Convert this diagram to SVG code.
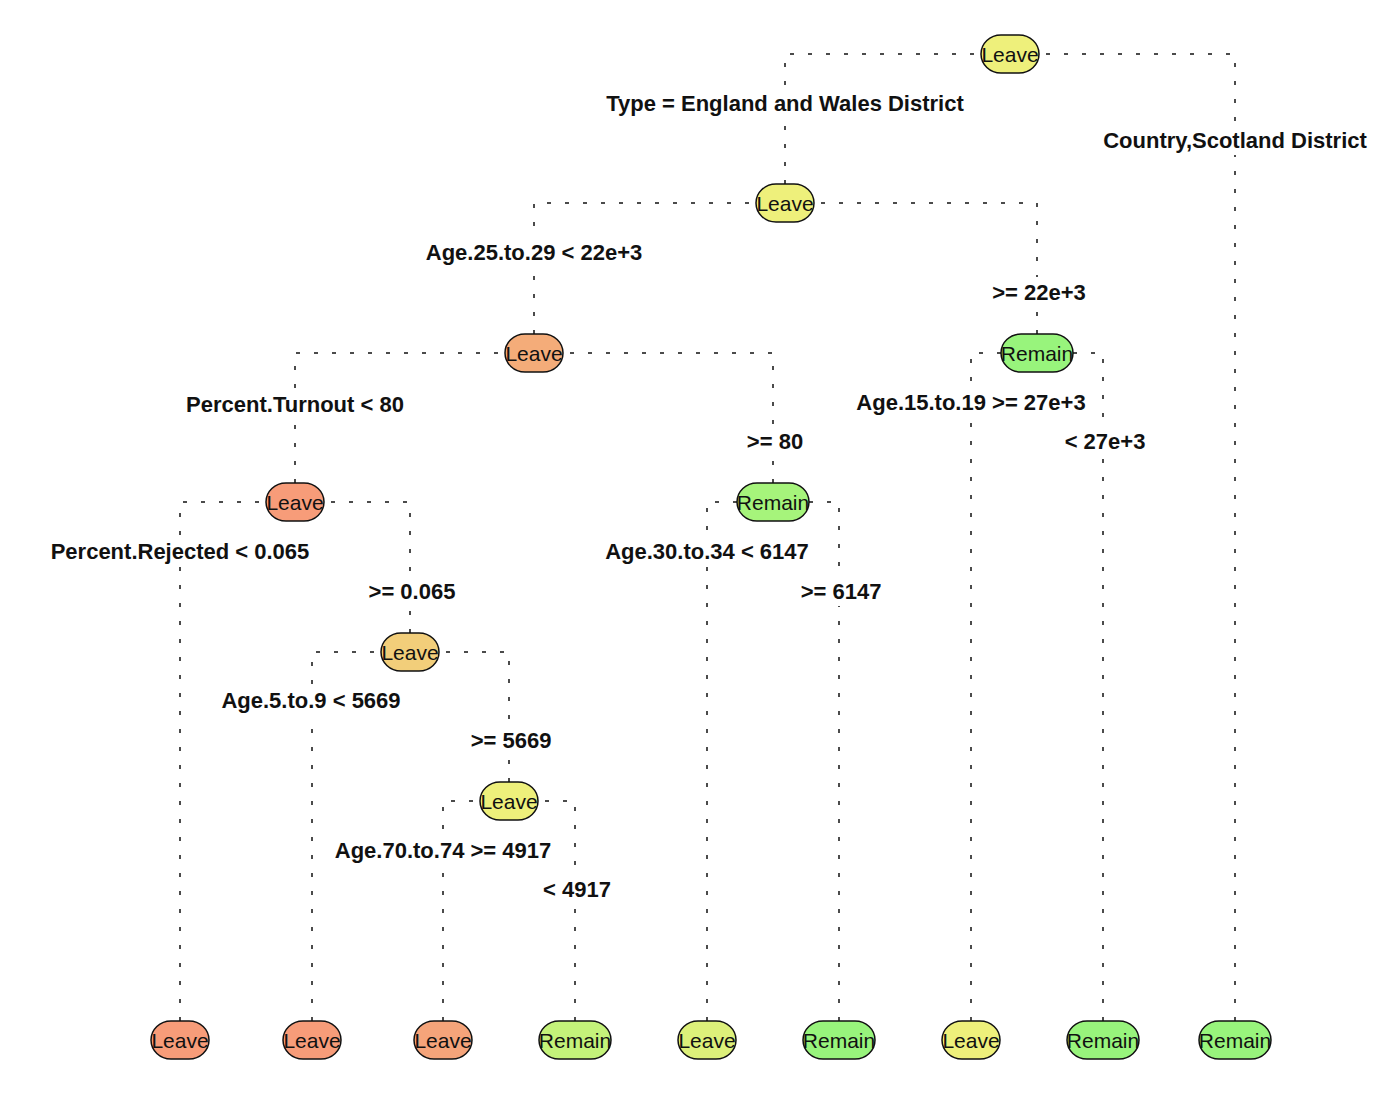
<svg xmlns="http://www.w3.org/2000/svg" width="1400" height="1099" viewBox="0 0 1400 1099">
<style>
.e{fill:none;stroke:#111;stroke-width:1.5;stroke-dasharray:4 14}
.lb{font-family:"Liberation Sans",Arial,sans-serif;font-weight:bold;font-size:22px;fill:#111;text-anchor:middle}
.nt{font-family:"Liberation Sans",Arial,sans-serif;font-size:21px;fill:#111;text-anchor:middle}
.n{stroke:#111;stroke-width:1.5}
.or{fill:#F79C79}.ye{fill:#EEF07B}.gr{fill:#98F47C}
</style>
<rect width="1400" height="1099" fill="#fff"/>
<g id="connectors">
<path class="e" d="M1010,54 H785 V88"/><path class="e" d="M785,184 V118"/>
<path class="e" d="M1010,54 H1235 V125"/><path class="e" d="M1235,1021 V155"/>
<path class="e" d="M785,203 H534 V237"/><path class="e" d="M534,334 V267"/>
<path class="e" d="M785,203 H1037 V277"/><path class="e" d="M1037,334 V307"/>
<path class="e" d="M534,353 H295 V389"/><path class="e" d="M295,483 V419"/>
<path class="e" d="M534,353 H773 V426"/><path class="e" d="M773,483 V456"/>
<path class="e" d="M1037,353 H971 V387"/><path class="e" d="M971,1021 V417"/>
<path class="e" d="M1037,353 H1103 V426"/><path class="e" d="M1103,1021 V456"/>
<path class="e" d="M295,502 H180 V536"/><path class="e" d="M180,1021 V566"/>
<path class="e" d="M295,502 H410 V576"/><path class="e" d="M410,633 V606"/>
<path class="e" d="M773,502 H707 V536"/><path class="e" d="M707,1021 V566"/>
<path class="e" d="M773,502 H839 V576"/><path class="e" d="M839,1021 V606"/>
<path class="e" d="M410,652 H312 V685"/><path class="e" d="M312,1021 V715"/>
<path class="e" d="M410,652 H509 V725"/><path class="e" d="M509,782 V755"/>
<path class="e" d="M509,801 H443 V835"/><path class="e" d="M443,1021 V865"/>
<path class="e" d="M509,801 H575 V874"/><path class="e" d="M575,1021 V904"/>
</g>
<g id="edge-labels">
<text class="lb" x="785" y="111">Type = England and Wales District</text>
<text class="lb" x="1235" y="148">Country,Scotland District</text>
<text class="lb" x="534" y="260">Age.25.to.29 &lt; 22e+3</text>
<text class="lb" x="1039" y="300">&gt;= 22e+3</text>
<text class="lb" x="295" y="412">Percent.Turnout &lt; 80</text>
<text class="lb" x="775" y="449">&gt;= 80</text>
<text class="lb" x="971" y="410">Age.15.to.19 &gt;= 27e+3</text>
<text class="lb" x="1105" y="449">&lt; 27e+3</text>
<text class="lb" x="180" y="559">Percent.Rejected &lt; 0.065</text>
<text class="lb" x="412" y="599">&gt;= 0.065</text>
<text class="lb" x="707" y="559">Age.30.to.34 &lt; 6147</text>
<text class="lb" x="841" y="599">&gt;= 6147</text>
<text class="lb" x="311" y="708">Age.5.to.9 &lt; 5669</text>
<text class="lb" x="511" y="748">&gt;= 5669</text>
<text class="lb" x="443" y="858">Age.70.to.74 &gt;= 4917</text>
<text class="lb" x="577" y="897">&lt; 4917</text>
</g>
<g id="node-root"><rect class="n ye" x="981" y="35" width="58" height="38" rx="20" ry="19"/><text class="nt" x="1010" y="61.5">Leave</text></g>
<g id="node-2"><rect class="n ye" x="756" y="184" width="58" height="38" rx="20" ry="19"/><text class="nt" x="785" y="210.5">Leave</text></g>
<g id="node-3"><rect class="n" fill="#F4AC79" x="505" y="334" width="58" height="38" rx="20" ry="19"/><text class="nt" x="534" y="360.5">Leave</text></g>
<g id="node-4"><rect class="n or" x="266" y="483" width="58" height="38" rx="20" ry="19"/><text class="nt" x="295" y="509.5">Leave</text></g>
<g id="node-5"><rect class="n" fill="#F2CE7A" x="381" y="633" width="58" height="38" rx="20" ry="19"/><text class="nt" x="410" y="659.5">Leave</text></g>
<g id="node-6"><rect class="n ye" x="480" y="782" width="58" height="38" rx="20" ry="19"/><text class="nt" x="509" y="808.5">Leave</text></g>
<g id="node-7"><rect class="n" fill="#A6F47B" x="737" y="483" width="72" height="38" rx="20" ry="19"/><text class="nt" x="773" y="509.5">Remain</text></g>
<g id="node-8"><rect class="n gr" x="1001" y="334" width="72" height="38" rx="20" ry="19"/><text class="nt" x="1037" y="360.5">Remain</text></g>
<g id="leaf-1"><rect class="n or" x="151" y="1021" width="58" height="38" rx="20" ry="19"/><text class="nt" x="180" y="1047.5">Leave</text></g>
<g id="leaf-2"><rect class="n or" x="283" y="1021" width="58" height="38" rx="20" ry="19"/><text class="nt" x="312" y="1047.5">Leave</text></g>
<g id="leaf-3"><rect class="n" fill="#F5A47A" x="414" y="1021" width="58" height="38" rx="20" ry="19"/><text class="nt" x="443" y="1047.5">Leave</text></g>
<g id="leaf-4"><rect class="n" fill="#C4F27A" x="539" y="1021" width="72" height="38" rx="20" ry="19"/><text class="nt" x="575" y="1047.5">Remain</text></g>
<g id="leaf-5"><rect class="n" fill="#DDF07A" x="678" y="1021" width="58" height="38" rx="20" ry="19"/><text class="nt" x="707" y="1047.5">Leave</text></g>
<g id="leaf-6"><rect class="n gr" x="803" y="1021" width="72" height="38" rx="20" ry="19"/><text class="nt" x="839" y="1047.5">Remain</text></g>
<g id="leaf-7"><rect class="n ye" x="942" y="1021" width="58" height="38" rx="20" ry="19"/><text class="nt" x="971" y="1047.5">Leave</text></g>
<g id="leaf-8"><rect class="n gr" x="1067" y="1021" width="72" height="38" rx="20" ry="19"/><text class="nt" x="1103" y="1047.5">Remain</text></g>
<g id="leaf-9"><rect class="n gr" x="1199" y="1021" width="72" height="38" rx="20" ry="19"/><text class="nt" x="1235" y="1047.5">Remain</text></g>
</svg>
